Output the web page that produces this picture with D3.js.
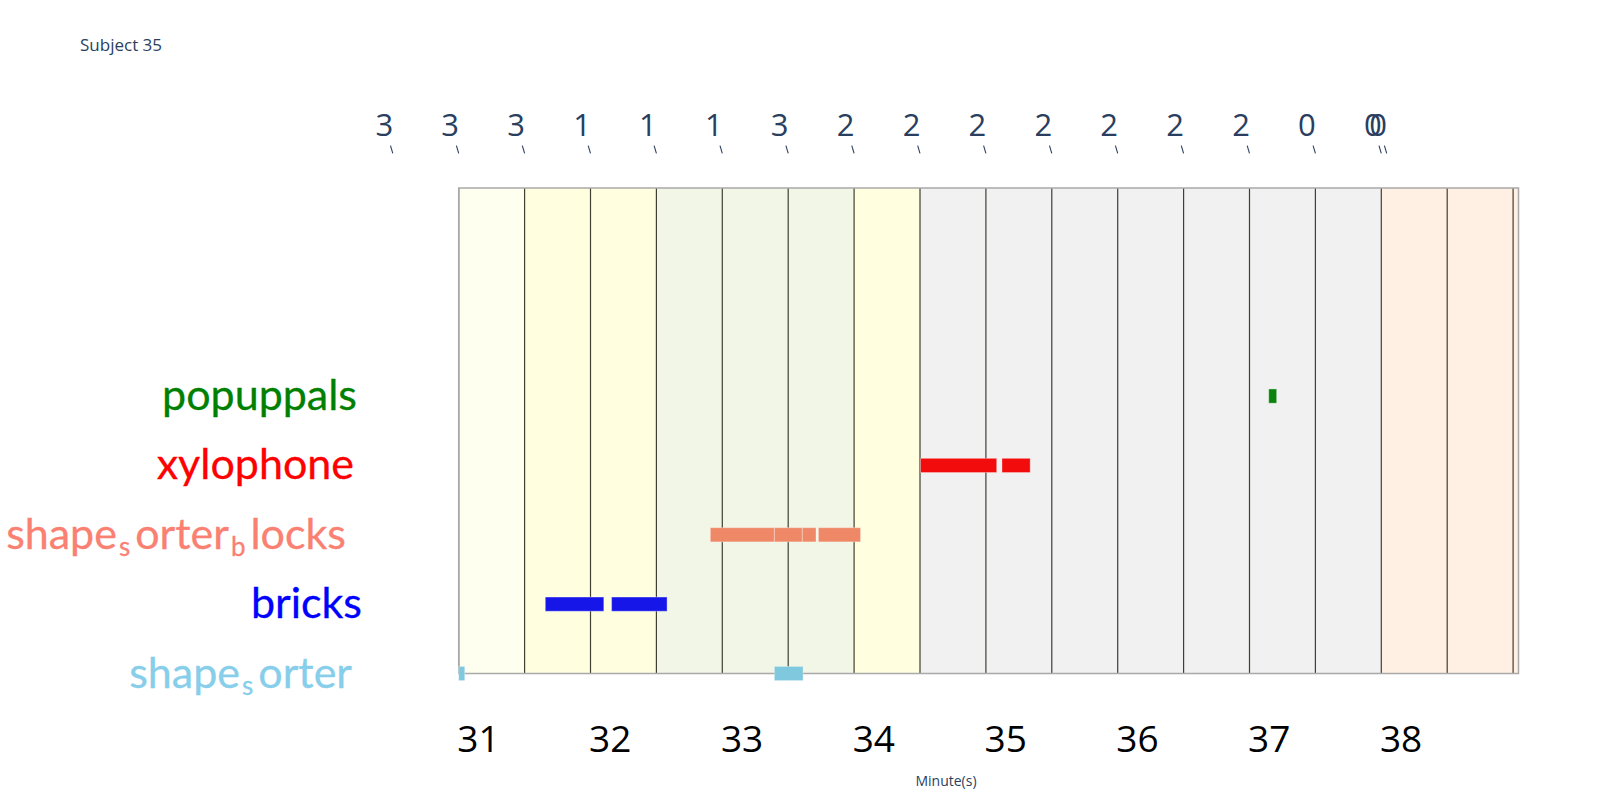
<!DOCTYPE html>
<html>
<head>
<meta charset="utf-8">
<script src="https://cdnjs.cloudflare.com/ajax/libs/d3/7.8.5/d3.min.js"></script>
<style>
  html, body { margin: 0; padding: 0; background: #fff; }
  svg { display: block; }
</style>
</head>
<body>
<svg id="chart" width="1600" height="800"></svg>
<script>
// ---------------- data ----------------
const categories = ["shape_sorter", "bricks", "shape_sorter_blocks", "xylophone", "popuppals"];
const categoryColors = ["#87ceeb", "#0000ff", "#fa8072", "#ff0000", "#008000"];
const barColors = ["#80c8dd", "#1616e8", "#ee8867", "#f20c0c", "#0b820b"];

// activity intervals, [start, end] in minutes
const shapeSorter = [[30.854, 30.900], [33.249, 33.467]];
const bricks = [[31.511, 31.955], [32.014, 32.435]];
const shapeSorterBlocks = [[32.763, 33.249], [33.249, 33.461], [33.461, 33.565], [33.583, 33.903]];
const xylophone = [[34.358, 34.936], [34.976, 35.190]];
const popuppals = [[37.000, 37.060]];

// 30-second epochs
const epochStarts = [30.854, 31.354, 31.854, 32.354, 32.854, 33.354, 33.854, 34.354, 34.854,
                     35.354, 35.854, 36.354, 36.854, 37.354, 37.854, 38.354, 38.854];
const epochEnds = [31.354, 31.854, 32.354, 32.854, 33.354, 33.854, 34.354, 34.854, 35.354,
                   35.854, 36.354, 36.854, 37.354, 37.854, 38.354, 38.854, 38.895];
const epochStages = ["3", "3", "3", "1", "1", "1", "3", "2", "2", "2", "2", "2", "2", "2", "0", "0", "0"];
const epochColors = ["#fffff0", "#ffffe0", "#ffffe0", "#f1f6e6", "#f1f6e6", "#f1f6e6", "#ffffe0",
                     "#f1f1f1", "#f1f1f1", "#f1f1f1", "#f1f1f1", "#f1f1f1", "#f1f1f1", "#f1f1f1",
                     "#fff0e3", "#fff0e3", "#fff0e3"];

const xTickValues = [31, 32, 33, 34, 35, 36, 37, 38];
const xTickLabels = ["31", "32", "33", "34", "35", "36", "37", "38"];
const titleText = "Subject 35";
const xTitle = "Minute(s)";

// ---------------- layout ----------------
const plotLeft = 458.7, plotRight = 1518.5, plotTop = 188, plotBottom = 673.5;
const labelRight = 357;
const labelShift = [-5, 5, -11, -3, 0];   // per-row horizontal nudge of the row labels
const svg = d3.select("#chart");

const x = d3.scaleLinear().domain([30.854, 38.895]).range([plotLeft, plotRight]);
const y = d3.scaleLinear().domain([0, 7]).range([plotBottom, plotTop]);

// epoch backgrounds
svg.append("g").selectAll("rect")
  .data(epochStarts.map((s, i) => ({s, e: epochEnds[i], c: epochColors[i]})))
  .join("rect")
  .attr("x", d => x(d.s))
  .attr("width", d => x(d.e) - x(d.s))
  .attr("y", plotTop)
  .attr("height", plotBottom - plotTop)
  .attr("fill", d => d.c);

// epoch boundary lines
svg.append("g").selectAll("line")
  .data(epochStarts)
  .join("line")
  .attr("x1", d => x(d)).attr("x2", d => x(d))
  .attr("y1", plotTop).attr("y2", plotBottom)
  .attr("stroke", "#1e1e14")
  .attr("stroke-opacity", 0.85)
  .attr("stroke-width", 1.2);

// plot border
svg.append("rect")
  .attr("x", plotLeft).attr("y", plotTop)
  .attr("width", plotRight - plotLeft).attr("height", plotBottom - plotTop)
  .attr("fill", "none")
  .attr("stroke", "#a9a9a9")
  .attr("stroke-width", 1.5);

// activity bars
const activitySeries = [shapeSorter, bricks, shapeSorterBlocks, xylophone, popuppals];
const barHalf = 0.1025;
activitySeries.forEach((series, ci) => {
  svg.append("g").selectAll("rect")
    .data(series)
    .join("rect")
    .attr("x", d => x(d[0]))
    .attr("width", d => Math.max(1, x(d[1]) - x(d[0])))
    .attr("y", y(ci + barHalf))
    .attr("height", y(ci - barHalf) - y(ci + barHalf))
    .attr("fill", barColors[ci])
    .attr("stroke", "rgba(255,255,255,0.35)")
    .attr("stroke-width", 1);
});

// category labels (plotly-like "_x" subscript rendering)
const labelG = svg.append("g");
categories.forEach((cat, ci) => {
  const t = labelG.append("text")
    .attr("x", labelRight + labelShift[ci])
    .attr("y", y(ci) + 14)
    .attr("text-anchor", "end")
    .attr("font-family", "Lato, 'Noto Sans', sans-serif")
    .attr("font-size", 43)
    .attr("fill", categoryColors[ci])
    .attr("stroke", categoryColors[ci])
    .attr("stroke-width", 0.3);
  const parts = cat.split("_");
  t.append("tspan").text(parts[0]);
  parts.slice(1).forEach(p => {
    t.append("tspan").attr("font-size", 26).attr("dy", 7).attr("dx", 2).text(p[0]);
    t.append("tspan").attr("dy", -7).attr("dx", 5).text(p.slice(1));
  });
});

// x axis
const xAxis = d3.axisBottom(x)
  .tickValues(xTickValues)
  .tickFormat((d, i) => xTickLabels[i])
  .tickSize(0);
const gx = svg.append("g").attr("transform", `translate(0,${plotBottom})`).call(xAxis);
gx.select(".domain").remove();
gx.selectAll("text")
  .attr("y", 78.8).attr("dy", 0)
  .attr("font-family", "'Open Sans', sans-serif")
  .attr("font-size", 37)
  .attr("fill", "#000");

// x title
svg.append("text")
  .attr("x", 946).attr("y", 786)
  .attr("text-anchor", "middle")
  .attr("font-family", "'Open Sans', sans-serif")
  .attr("font-size", 14)
  .attr("fill", "#2a3f5f")
  .text(xTitle);

// chart title
svg.append("text")
  .attr("x", 80).attr("y", 50.7)
  .attr("font-family", "'Open Sans', sans-serif")
  .attr("font-size", 17)
  .attr("fill", "#2a3f5f")
  .text(titleText);

// stage annotations
const annG = svg.append("g");
const ann = epochEnds.map((e, i) => ({X: x(e - 1), label: epochStages[i]}));
annG.selectAll("text")
  .data(ann)
  .join("text")
  .attr("x", d => d.X - 8.5)
  .attr("y", 136)
  .attr("text-anchor", "middle")
  .attr("font-family", "'Open Sans', sans-serif")
  .attr("font-size", 31)
  .attr("fill", "#2a3f5f")
  .text(d => d.label);
annG.selectAll("line")
  .data(ann)
  .join("line")
  .attr("x1", d => d.X - 2.3).attr("y1", 145.7)
  .attr("x2", d => d.X).attr("y2", 153.3)
  .attr("stroke", "#2a3f5f")
  .attr("stroke-width", 1.1);
</script>
</body>
</html>
